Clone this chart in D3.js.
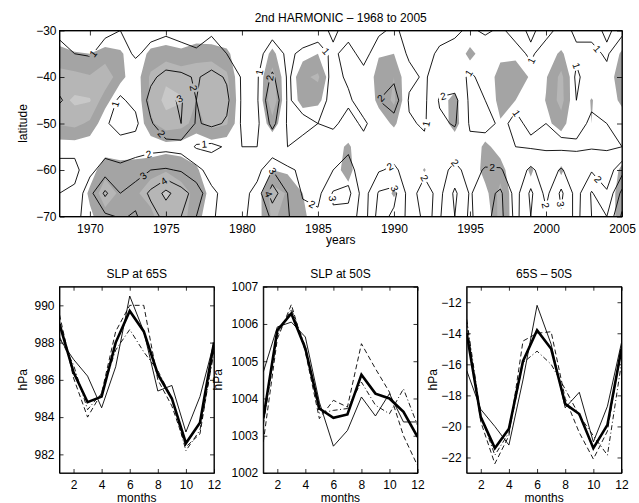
<!DOCTYPE html>
<html>
<head>
<meta charset="utf-8">
<script src="https://cdn.jsdelivr.net/npm/d3@7"></script>
<style>
  body { margin: 0; background: #fff; }
  svg text { font-family: "Liberation Sans", Arial, Helvetica, sans-serif; fill: #000; }
</style>
</head>
<body>
<svg id="fig" width="639" height="503"></svg>
<script>
// ---------- data: 2nd harmonic amplitude, year x latitude ----------
const years = [1968, 1969, 1970, 1971, 1972, 1973, 1974, 1975, 1976, 1977, 1978, 1979,
               1980, 1981, 1982, 1983, 1984, 1985, 1986, 1987, 1988, 1989, 1990, 1991,
               1992, 1993, 1994, 1995, 1996, 1997, 1998, 1999, 2000, 2001, 2002, 2003,
               2004, 2005];
const latitudes = [-30, -35, -40, -45, -50, -55, -60, -65, -70];
const yearTicks = [1970, 1975, 1980, 1985, 1990, 1995, 2000, 2005];
const latTicks = [-30, -40, -50, -60, -70];
const contourLevels = [1, 2, 3, 4, 5];
const shadeLevels = [1, 2, 3];

// amplitude (hPa), one row per year, columns follow `latitudes`
const amplitude = [
  [0.8, 1.3, 1.8, 2.05, 1.7, 1.2, 0.8, 1.0, 1.5],
  [0.6, 1.0, 1.6, 1.8, 1.6, 1.3, 0.7, 1.2, 1.8],
  [0.7, 0.95, 1.4, 1.5, 1.4, 1.4, 1.7, 2.7, 2.3],
  [0.9, 1.2, 1.5, 1.3, 1.1, 1.5, 2.5, 4.2, 2.8],
  [1.0, 1.3, 1.4, 0.9, 0.7, 1.3, 2.3, 3.0, 3.1],
  [0.6, 0.9, 1.4, 1.2, 0.8, 1.4, 2.7, 3.3, 2.9],
  [0.8, 1.2, 1.8, 2.3, 1.9, 1.6, 3.0, 4.2, 3.6],
  [0.9, 1.3, 2.3, 2.8, 2.6, 1.7, 3.1, 5.3, 4.3],
  [0.8, 1.2, 2.2, 3.1, 3.0, 1.6, 2.9, 4.4, 4.0],
  [0.7, 1.1, 1.9, 2.0, 1.9, 0.9, 2.3, 3.6, 3.0],
  [0.9, 1.3, 2.3, 2.4, 2.2, 0.8, 1.6, 2.2, 2.1],
  [0.7, 1.0, 1.9, 2.2, 1.9, 1.1, 1.4, 1.7, 1.7],
  [0.6, 0.8, 0.9, 0.9, 0.9, 1.0, 1.3, 1.6, 1.9],
  [0.7, 0.8, 0.9, 0.9, 0.8, 1.0, 1.6, 2.4, 2.2],
  [0.8, 1.3, 2.2, 2.9, 2.3, 1.1, 3.0, 4.6, 3.2],
  [0.8, 0.9, 0.9, 0.9, 0.9, 1.0, 2.2, 3.0, 3.1],
  [0.7, 1.1, 1.4, 1.3, 0.8, 1.2, 1.8, 1.9, 2.3],
  [0.8, 1.2, 1.5, 1.4, 1.0, 1.1, 1.5, 1.7, 2.2],
  [1.1, 0.9, 0.8, 0.7, 0.9, 1.3, 2.0, 3.1, 2.9],
  [0.8, 1.2, 1.1, 0.9, 1.2, 1.8, 2.4, 3.3, 2.6],
  [0.7, 0.8, 1.2, 1.3, 0.9, 1.2, 1.4, 1.5, 1.5],
  [0.9, 1.3, 1.7, 2.0, 1.3, 1.3, 1.9, 3.1, 3.4],
  [1.1, 1.4, 1.8, 2.5, 1.6, 1.4, 2.2, 3.3, 2.8],
  [0.8, 0.9, 1.2, 0.9, 1.1, 1.5, 1.5, 1.6, 1.7],
  [1.0, 0.8, 0.9, 0.8, 0.9, 1.2, 1.8, 2.4, 2.1],
  [0.8, 1.1, 1.4, 2.1, 1.8, 1.3, 1.6, 1.7, 1.9],
  [0.9, 1.2, 1.3, 2.3, 2.1, 1.4, 2.3, 3.2, 3.0],
  [1.1, 1.3, 0.9, 0.8, 0.9, 1.2, 1.6, 1.9, 1.8],
  [0.9, 1.4, 1.2, 1.0, 0.8, 1.3, 2.1, 2.6, 2.8],
  [1.1, 1.6, 1.3, 1.2, 1.1, 1.1, 2.1, 3.2, 3.3],
  [0.8, 1.2, 1.4, 1.1, 0.9, 1.0, 1.4, 1.6, 1.7],
  [1.1, 0.9, 1.2, 1.3, 1.1, 0.9, 2.2, 3.2, 3.0],
  [0.8, 1.3, 1.6, 1.3, 1.0, 0.9, 1.5, 1.7, 2.2],
  [1.2, 1.6, 1.8, 1.6, 1.3, 0.8, 2.1, 3.2, 2.9],
  [0.9, 1.1, 0.9, 1.0, 1.2, 0.9, 1.4, 1.6, 1.7],
  [0.8, 1.2, 1.3, 1.1, 0.9, 0.9, 1.9, 3.1, 3.0],
  [1.1, 0.9, 1.2, 1.3, 1.0, 0.9, 1.5, 2.1, 3.0],
  [0.8, 1.6, 1.8, 1.5, 1.2, 1.0, 2.6, 4.3, 5.2]
];

// shaded significance field, one row per year, columns follow `latitudes`
const significance = [
  [0, 1.5, 2.3, 2.6, 2.1, 0.5, 0, 0, 0],
  [0, 1.1, 2.3, 3.2, 2.3, 0.5, 0, 0, 0],
  [0, 1.0, 2.1, 3.1, 1.8, 0.3, 0.5, 1.2, 0.8],
  [0, 1.4, 2.8, 1.4, 0.3, 0.5, 1.6, 2.6, 1.6],
  [0, 1.2, 1.3, 0.2, 0, 0.3, 1.5, 1.8, 1.5],
  [0, 0.2, 0.4, 0.2, 0, 0.3, 1.6, 1.9, 1.4],
  [0, 1.3, 2.2, 2.3, 1.8, 0.3, 1.8, 2.3, 1.8],
  [0, 1.6, 2.8, 3.3, 2.6, 0.6, 1.9, 3.2, 2.6],
  [0, 1.3, 2.6, 3.1, 2.4, 0.5, 1.7, 2.3, 2.4],
  [0, 1.8, 2.3, 2.0, 1.6, 0.2, 1.2, 1.8, 1.4],
  [0, 1.7, 2.6, 3.0, 2.4, 0.4, 0, 0.6, 0.3],
  [0, 1.3, 2.2, 2.6, 2.1, 0.2, 0, 0, 0],
  [0, 0, 0, 0, 0, 0, 0, 0, 0],
  [0, 0, 0, 0, 0, 0, 0, 0.4, 0.5],
  [0, 1.3, 2.5, 2.8, 1.6, 0, 1.0, 2.5, 2.2],
  [0, 0, 0, 0, 0, 0, 0.8, 1.9, 1.6],
  [0, 0.6, 1.8, 1.5, 0, 0, 0.3, 1.0, 1.3],
  [0, 1.0, 2.2, 1.3, 0, 0, 0, 0.2, 0.2],
  [0, 0, 0, 0, 0, 0.5, 0.6, 0, 0],
  [0, 0, 0, 0, 0, 1.2, 1.4, 0.6, 0],
  [0, 0, 0, 0, 0, 0, 0, 0, 0],
  [0, 0.9, 1.5, 1.3, 0.4, 0, 0, 0, 0],
  [0, 1.0, 2.0, 2.2, 1.2, 0, 0, 1.2, 0],
  [0, 0, 0, 0, 0, 0, 0, 0, 0],
  [0, 0, 0, 0, 0, 0, 1.1, 0, 0],
  [0, 0, 0, 0.6, 0.4, 0, 0, 0, 0],
  [0, 0, 0.4, 1.3, 1.4, 0.3, 0, 0, 0],
  [0, 1.4, 0, 0, 0, 0, 0, 0, 0],
  [0, 0.3, 0.2, 0, 0, 1.3, 1.5, 0.6, 0],
  [0, 0.7, 1.5, 1.4, 0.9, 0.5, 1.5, 2.4, 2.5],
  [0, 0.8, 1.5, 1.0, 0, 0, 0, 0, 0],
  [0, 0.8, 0.9, 0.2, 0, 0, 1.2, 0.5, 0],
  [0, 0.4, 0.9, 1.05, 0.7, 0, 0, 0, 0],
  [0, 1.2, 2.3, 2.4, 1.5, 0, 1.2, 0.3, 0],
  [0, 0, 0, 0, 0, 0, 0, 0, 0],
  [0, 0, 0, 1.1, 1.0, 0, 0, 0, 0],
  [0, 0, 0, 0, 0, 0, 0, 0, 0],
  [0, 1.2, 2.1, 1.4, 0, 0, 1.3, 1.8, 1.8]
];
const shadeColors = ["#a4a4a4", "#b6b6b6", "#c8c8c8"];

// ---------- data: monthly climatologies ----------
const months = [1, 2, 3, 4, 5, 6, 7, 8, 9, 10, 11, 12];
const monthTicks = [2, 4, 6, 8, 10, 12];

const slp65Mean    = [989.0, 986.4, 984.8, 985.1, 988.0, 989.7, 988.6, 986.3, 985.0, 982.6, 983.7, 988.0];
const slp65Thin    = [988.2, 987.1, 986.2, 984.5, 986.7, 990.5, 988.6, 985.4, 985.7, 983.2, 985.1, 988.0];
const slp65Dashed  = [989.5, 986.1, 984.0, 985.3, 988.6, 990.0, 990.0, 986.0, 984.6, 982.4, 983.1, 987.7];
const slp65DashDot = [988.3, 986.8, 984.4, 985.3, 987.6, 988.7, 987.5, 986.5, 985.0, 982.2, 983.3, 987.5];
const slp65Ticks = [982, 984, 986, 988, 990];

const slp50Mean    = [1003.46, 1005.83, 1006.28, 1005.34, 1003.73, 1003.48, 1003.57, 1004.64, 1004.13, 1004.0, 1003.64, 1002.97];
const slp50Thin    = [1004.71, 1005.92, 1006.05, 1005.65, 1003.9, 1002.72, 1003.14, 1004.04, 1003.53, 1004.13, 1003.37, 1003.37];
const slp50Dashed  = [1002.83, 1005.6, 1006.52, 1005.25, 1003.46, 1003.95, 1003.77, 1005.47, 1004.8, 1004.17, 1003.0, 1002.2];
const slp50DashDot = [1003.3, 1005.7, 1006.4, 1005.4, 1003.6, 1003.68, 1003.73, 1004.44, 1003.82, 1003.59, 1004.26, 1003.28];
const slp50Ticks = [1002, 1003, 1004, 1005, 1006, 1007];

const diffMean    = [-14.0, -19.4, -21.4, -20.15, -15.8, -13.8, -15.0, -18.55, -19.2, -21.4, -19.9, -15.0];
const diffThin    = [-16.4, -18.9, -20.0, -21.2, -17.0, -12.2, -14.7, -18.8, -17.8, -21.0, -18.7, -14.6];
const diffDashed  = [-13.3, -19.7, -22.4, -20.6, -14.5, -14.0, -13.9, -18.2, -20.4, -22.1, -20.3, -14.8];
const diffDashDot = [-13.1, -19.3, -21.85, -20.4, -15.9, -15.15, -16.0, -17.6, -19.3, -20.6, -21.85, -15.9];
const diffTicks = [-22, -20, -18, -16, -14, -12];

// ---------- figure ----------
const W = 639, H = 503;
const FONT = 12;
const svg = d3.select("#fig");
svg.append("rect").attr("width", W).attr("height", H).attr("fill", "#fff");
const defs = svg.append("defs");

function styleAxis(g) {
  g.attr("font-family", null).attr("font-size", null);
  g.selectAll("text").style("font-size", FONT + "px");
  g.selectAll("line,path").attr("stroke", "#000").attr("stroke-width", 0.8);
}

// box with inward ticks on all four sides
function boxAxes(g, x, y, box, xt, yt, tick, xfmt, yfmt, xpad, ypad) {
  g.append("g").attr("transform", `translate(0,${box.y1})`)
    .call(d3.axisBottom(x).tickValues(xt).tickSizeInner(-tick).tickSizeOuter(0).tickPadding(xpad).tickFormat(xfmt))
    .call(styleAxis);
  g.append("g").attr("transform", `translate(0,${box.y0})`)
    .call(d3.axisTop(x).tickValues(xt).tickSizeInner(-tick).tickSizeOuter(0).tickFormat(""))
    .call(styleAxis);
  g.append("g").attr("transform", `translate(${box.x0},0)`)
    .call(d3.axisLeft(y).tickValues(yt).tickSizeInner(-tick).tickSizeOuter(0).tickPadding(ypad).tickFormat(yfmt))
    .call(styleAxis);
  g.append("g").attr("transform", `translate(${box.x1},0)`)
    .call(d3.axisRight(y).tickValues(yt).tickSizeInner(-tick).tickSizeOuter(0).tickFormat(""))
    .call(styleAxis);
  g.append("rect").attr("x", box.x0).attr("y", box.y0)
    .attr("width", box.x1 - box.x0).attr("height", box.y1 - box.y0)
    .attr("fill", "none").attr("stroke", "#000").attr("stroke-width", 1);
}

// ---------- contour panel ----------
const T = { x0: 59.5, x1: 622, y0: 30.5, y1: 216.5 };
const xYear = d3.scaleLinear().domain([years[0], years[years.length - 1]]).range([T.x0, T.x1]);
const yLat = d3.scaleLinear().domain([latitudes[0], latitudes[latitudes.length - 1]]).range([T.y0, T.y1]);

const nx = years.length, ny = latitudes.length;
function gridValues(byYear) {
  const v = new Array(nx * ny);
  for (let j = 0; j < ny; j++) for (let i = 0; i < nx; i++) v[j * nx + i] = byYear[i][j];
  return v;
}
// d3.contours puts sample i at grid coordinate i + 0.5
const gx = d3.scaleLinear().domain([0.5, nx - 0.5]).range([xYear(years[0]), xYear(years[nx - 1])]);
const gy = d3.scaleLinear().domain([0.5, ny - 0.5]).range([yLat(latitudes[0]), yLat(latitudes[ny - 1])]);
const toPx = p => [gx(p[0]), gy(p[1])];
const ringPath = ring => "M" + ring.map(p => toPx(p).map(v => v.toFixed(2)).join(",")).join("L") + "Z";
const geomPath = geom => geom.coordinates.map(poly => poly.map(ringPath).join("")).join("");

defs.append("clipPath").attr("id", "clipTop")
  .append("rect").attr("x", T.x0).attr("y", T.y0).attr("width", T.x1 - T.x0).attr("height", T.y1 - T.y0);

const shadeBands = d3.contours().size([nx, ny]).thresholds(shadeLevels)(gridValues(significance));
const isolines = d3.contours().size([nx, ny]).thresholds(contourLevels)(gridValues(amplitude));

const topG = svg.append("g");
const plotG = topG.append("g").attr("clip-path", "url(#clipTop)");
plotG.selectAll("path.band").data(shadeBands).join("path")
  .attr("class", "band")
  .attr("d", geomPath)
  .attr("fill", (d, i) => shadeColors[i])
  .attr("fill-rule", "evenodd")
  .attr("stroke", "none");

// inline contour labels, placed along each visible isoline
const labels = [];
isolines.forEach(c => {
  c.coordinates.forEach(poly => poly.forEach(ring => {
    const pts = ring.map(toPx);
    const runs = [];
    let cur = [];
    pts.forEach(p => {
      const inside = p[0] > T.x0 + 5 && p[0] < T.x1 - 5 && p[1] > T.y0 + 5 && p[1] < T.y1 - 5;
      if (inside) cur.push(p); else { if (cur.length > 1) runs.push(cur); cur = []; }
    });
    if (cur.length > 1) runs.push(cur);
    runs.forEach(run => {
      const seg = [];
      let L = 0;
      for (let k = 1; k < run.length; k++) {
        const d = Math.hypot(run[k][0] - run[k - 1][0], run[k][1] - run[k - 1][1]);
        seg.push(d); L += d;
      }
      if (L < 30) return;
      const n = L > 320 ? 2 : 1;
      for (let m = 1; m <= n; m++) {
        let s = L * m / (n + 1), k = 0;
        while (k < seg.length - 1 && s > seg[k]) { s -= seg[k]; k++; }
        const a = run[k], b = run[k + 1], t = seg[k] ? s / seg[k] : 0;
        let ang = Math.atan2(b[1] - a[1], b[0] - a[0]) * 180 / Math.PI;
        if (ang > 90) ang -= 180;
        if (ang < -90) ang += 180;
        labels.push({ x: a[0] + (b[0] - a[0]) * t, y: a[1] + (b[1] - a[1]) * t, angle: ang, value: c.value });
      }
    });
  }));
});

const gapMask = defs.append("mask").attr("id", "labelGaps")
  .attr("maskUnits", "userSpaceOnUse").attr("x", 0).attr("y", 0).attr("width", W).attr("height", H);
gapMask.append("rect").attr("width", W).attr("height", H).attr("fill", "#fff");
gapMask.selectAll("rect.gap").data(labels).join("rect")
  .attr("class", "gap")
  .attr("x", -4.5).attr("y", -5).attr("width", 9).attr("height", 10)
  .attr("transform", d => `translate(${d.x},${d.y}) rotate(${d.angle})`)
  .attr("fill", "#000");

plotG.append("g").attr("mask", "url(#labelGaps)")
  .selectAll("path.iso").data(isolines).join("path")
  .attr("class", "iso")
  .attr("d", geomPath)
  .attr("fill", "none")
  .attr("stroke", "#000")
  .attr("stroke-width", 0.9)
  .attr("stroke-linejoin", "round");

plotG.append("g").selectAll("text").data(labels).join("text")
  .attr("transform", d => `translate(${d.x},${d.y}) rotate(${d.angle})`)
  .attr("text-anchor", "middle")
  .attr("dy", "0.36em")
  .style("font-size", "10px")
  .text(d => d.value);

boxAxes(topG, xYear, yLat, T, yearTicks, latTicks, 5, d3.format("d"), d3.format("d"), 8, 3);

topG.append("text").attr("x", (T.x0 + T.x1) / 2).attr("y", 21.5)
  .attr("text-anchor", "middle").style("font-size", FONT + "px")
  .text("2nd HARMONIC \u2013 1968 to 2005");
topG.append("text").attr("x", (T.x0 + T.x1) / 2).attr("y", 244)
  .attr("text-anchor", "middle").style("font-size", FONT + "px").text("years");
topG.append("text").attr("transform", `translate(26.5,${(T.y0 + T.y1) / 2}) rotate(-90)`)
  .attr("text-anchor", "middle").style("font-size", FONT + "px").text("latitude");

// ---------- monthly panels ----------
const PY0 = 286.7, PY1 = 473;
const panels = [
  { title: "SLP at 65S", box: { x0: 59.5, x1: 214, y0: PY0, y1: PY1 }, domain: [981, 991],
    ticks: slp65Ticks, ylabelX: 26.5,
    series: [slp65Dashed, slp65DashDot, slp65Thin, slp65Mean] },
  { title: "SLP at 50S", box: { x0: 263.3, x1: 417.5, y0: PY0, y1: PY1 }, domain: [1002, 1007],
    ticks: slp50Ticks, ylabelX: 222,
    series: [slp50Dashed, slp50DashDot, slp50Thin, slp50Mean] },
  { title: "65S \u2013 50S", box: { x0: 466.7, x1: 621.5, y0: PY0, y1: PY1 }, domain: [-23, -11],
    ticks: diffTicks, ylabelX: 437,
    series: [diffDashed, diffDashDot, diffThin, diffMean] }
];
const seriesStyles = [
  { width: 0.9, dash: "5,3" },
  { width: 0.9, dash: "5,2.5,1,2.5" },
  { width: 0.9, dash: null },
  { width: 2.6, dash: null }
];

panels.forEach((p, pi) => {
  const b = p.box;
  const x = d3.scaleLinear().domain([months[0], months[months.length - 1]]).range([b.x0, b.x1]);
  const y = d3.scaleLinear().domain(p.domain).range([b.y1, b.y0]);
  const g = svg.append("g");
  const cid = "clipP" + pi;
  defs.append("clipPath").attr("id", cid)
    .append("rect").attr("x", b.x0).attr("y", b.y0).attr("width", b.x1 - b.x0).attr("height", b.y1 - b.y0);
  const line = d3.line().x((d, i) => x(months[i])).y(d => y(d));
  g.append("g").attr("clip-path", `url(#${cid})`)
    .selectAll("path").data(p.series).join("path")
    .attr("d", line)
    .attr("fill", "none")
    .attr("stroke", "#000")
    .attr("stroke-width", (d, i) => seriesStyles[i].width)
    .attr("stroke-dasharray", (d, i) => seriesStyles[i].dash)
    .attr("stroke-linejoin", "miter");
  boxAxes(g, x, y, b, monthTicks, p.ticks, 4, d3.format("d"), d3.format("d"), 7, 5);
  g.append("text").attr("x", (b.x0 + b.x1) / 2).attr("y", 278.3)
    .attr("text-anchor", "middle").style("font-size", FONT + "px").text(p.title);
  g.append("text").attr("x", (b.x0 + b.x1) / 2).attr("y", 501.5)
    .attr("text-anchor", "middle").style("font-size", FONT + "px").text("months");
  g.append("text").attr("transform", `translate(${p.ylabelX},${(b.y0 + b.y1) / 2}) rotate(-90)`)
    .attr("text-anchor", "middle").style("font-size", FONT + "px").text("hPa");
});
</script>
</body>
</html>
